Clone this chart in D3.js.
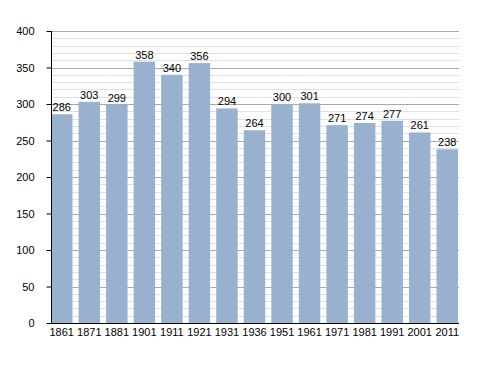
<!DOCTYPE html>
<html>
<head>
<meta charset="utf-8">
<script src="https://cdn.jsdelivr.net/npm/d3@7"></script>
<style>
  body { margin: 0; background: #fff; }
  text { font-family: "Liberation Sans", Arial, sans-serif; }
</style>
</head>
<body>
<div class="chart"></div>
<script>
// census years and population
var years = ["1861", "1871", "1881", "1901", "1911", "1921", "1931", "1936",
  "1951", "1961", "1971", "1981", "1991", "2001", "2011"];
var population = [286, 303, 299, 358, 340, 356, 294, 264, 300, 301, 271, 274, 277, 261, 238];
var yTicks = [0, 50, 100, 150, 200, 250, 300, 350, 400];

var data = years.map((y, i) => ({ year: y, value: population[i] }));

var margin = { top: 31, right: 29, bottom: 50, left: 51 },
  width = 488 - margin.left - margin.right,
  height = 373 - margin.top - margin.bottom;

const svg = d3
  .select(".chart")
  .append("svg")
  .attr("width", 488)
  .attr("height", 373)
  .append("g")
  .attr("transform", "translate(" + margin.left + "," + margin.top + ")");

var x = d3.scaleBand()
  .domain(years)
  .range([0, 407])
  .paddingInner(0.22)
  .paddingOuter(0);

var y = d3.scaleLinear().domain([0, 400]).range([height, 0]);

//minor grid
svg.selectAll(".minor")
  .data(d3.range(0, 401, 10).filter((d) => d % 50 != 0))
  .enter()
  .append("line")
  .attr("x1", 0)
  .attr("x2", width)
  .attr("y1", (d) => Math.round(y(d)) + 0.5)
  .attr("y2", (d) => Math.round(y(d)) + 0.5)
  .attr("stroke", "#e0e0e0");

//major grid
svg.selectAll(".major")
  .data(yTicks.slice(1))
  .enter()
  .append("line")
  .attr("x1", 0)
  .attr("x2", width)
  .attr("y1", (d) => Math.round(y(d)) + 0.5)
  .attr("y2", (d) => Math.round(y(d)) + 0.5)
  .attr("stroke", "#a8a8a8");

//bars
svg.selectAll("rect")
  .data(data)
  .enter()
  .append("rect")
  .attr("x", (d) => x(d.year))
  .attr("width", x.bandwidth())
  .attr("y", (d) => y(d.value))
  .attr("height", (d) => height - y(d.value))
  .attr("fill", "#97b1cf");

//value labels
svg.selectAll(".val")
  .data(data)
  .enter()
  .append("text")
  .attr("x", (d) => x(d.year) + x.bandwidth() / 2)
  .attr("y", (d) => y(d.value) - 3)
  .attr("text-anchor", "middle")
  .attr("font-size", 11)
  .attr("fill", "#000")
  .text((d) => d.value);

//y axis with minor ticks
var yAxis = svg.append("g").attr("transform", "translate(0.5,0)");
yAxis.call(d3.axisLeft(y).tickValues(d3.range(0, 401, 10)).tickSize(3).tickFormat(""))
  .call((g) => g.select(".domain").remove());
yAxis.call(d3.axisLeft(y).tickValues(yTicks).tickSize(5).tickPadding(12))
  .call((g) => g.select(".domain").remove());
yAxis.selectAll("text").attr("font-size", 11).attr("fill", "#000")
  .style("font-family", "'Liberation Sans', Arial, sans-serif");
yAxis.append("line")
  .attr("y1", 0).attr("y2", height)
  .attr("stroke", "#000");

//x axis
var xAxis = svg.append("g").attr("transform", "translate(0," + (height + 0.5) + ")");
xAxis.call(d3.axisBottom(x).tickSize(0).tickPadding(5))
  .call((g) => g.select(".domain").remove());
xAxis.selectAll("text").attr("font-size", 11).attr("fill", "#000")
  .style("font-family", "'Liberation Sans', Arial, sans-serif");
xAxis.append("line")
  .attr("x1", 0).attr("x2", width)
  .attr("stroke", "#000");
</script>
</body>
</html>
